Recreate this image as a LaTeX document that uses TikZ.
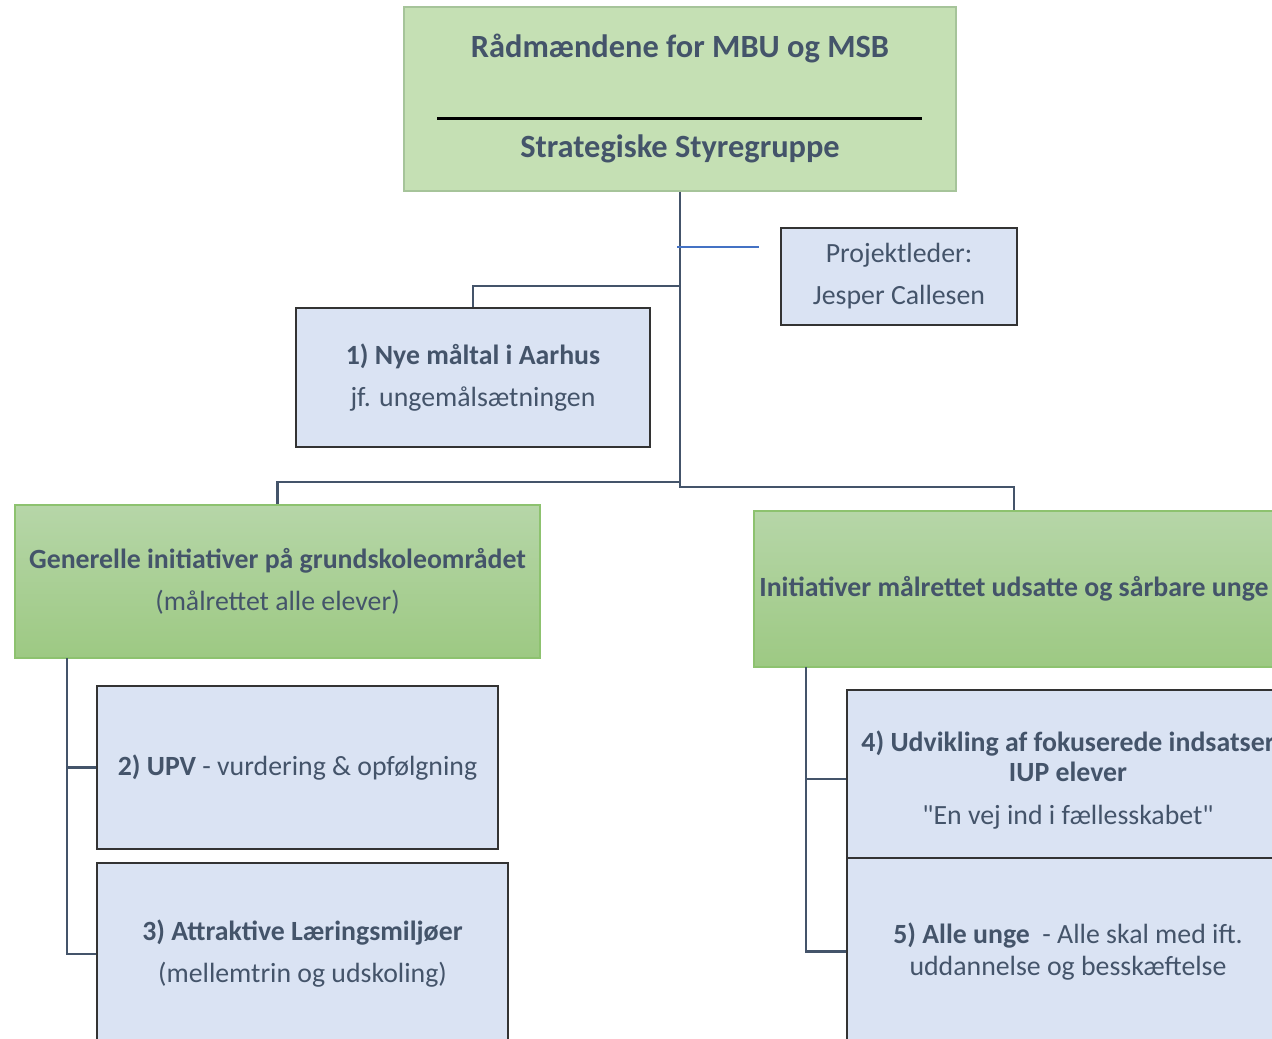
\documentclass[tikz,border=0pt]{standalone}
\usepackage{fontspec}
\setmainfont{Carlito}
\definecolor{txt}{HTML}{44546A}
\definecolor{bluefill}{HTML}{DAE3F3}
\definecolor{greenfill}{HTML}{C5E0B4}
\definecolor{greentop}{HTML}{B6D6A8}
\definecolor{greenbot}{HTML}{9DC983}
\definecolor{greenline}{HTML}{8DC26F}
\definecolor{topline}{HTML}{A6C49A}
\definecolor{pmline}{HTML}{4472C4}

\begin{document}
\begin{tikzpicture}[x=1pt,y=-1pt,
    every node/.style={text=txt,font=\fontsize{27.8}{32}\selectfont,align=center,inner sep=0pt},
    top node/.style={rectangle,draw=topline,fill=greenfill,line width=1.2pt,
      minimum width=552pt,minimum height=184pt},
    group node/.style={rectangle,draw=greenline,line width=1.2pt,
      top color=greentop,bottom color=greenbot},
    blue node/.style={rectangle,draw=black!80,fill=bluefill,line width=1.3pt},
    big/.style={font=\fontsize{32.4}{36}\selectfont\bfseries},
    conn/.style={draw=txt,line width=2.2pt}]

  \useasboundingbox (0,0) rectangle (1272,1039);
  \clip (0,0) rectangle (1272,1039);

  % top box
  \node[top node] (top) at (680,99) {};
  \node[big] (title) at (680,48.5) {Rådmændene for MBU og MSB};
  \node[big] (styre) at (680,148.5) {Strategiske Styregruppe};
  \draw[line width=3pt] (437,118) -- (922,118);

  \node[blue node,minimum width=236pt,minimum height=97pt] (pl) at (899,276.5)
    {Projektleder:\\[10pt]Jesper Callesen};
  \node[blue node,minimum width=354pt,minimum height=139pt] (nr1) at (473,377.5)
    {\textbf{1) Nye måltal i Aarhus}\\[10pt]jf. ungemålsætningen};

  % the two groups
  \node[group node,minimum width=525pt,minimum height=153pt] (gen) at (277.5,581.5)
    {\textbf{Generelle initiativer på grundskoleområdet}\\[10pt](målrettet alle elever)};
  \node[group node,minimum width=520pt,minimum height=156pt] (uds) at (1014,589)
    {\textbf{Initiativer målrettet udsatte og sårbare unge}};

  \node[blue node,minimum width=401pt,minimum height=163pt] (nr2) at (297.5,767.5)
    {\textbf{2) UPV} - vurdering \& opfølgning};
  \node[blue node,minimum width=411pt,minimum height=182pt] (nr3) at (302.5,954)
    {\textbf{3) Attraktive Læringsmiljøer}\\[10pt](mellemtrin og udskoling)};
  \node[blue node,minimum width=442pt,minimum height=168pt] (nr4) at (1068,774) {};
  \node (nr4text) at (1068,780)
    {\textbf{4) Udvikling af fokuserede indsatser}\\[-2pt]\textbf{IUP elever}\\[11pt]\textquotedbl En vej ind i fællesskabet\textquotedbl};
  \node[blue node,minimum width=442pt,minimum height=187pt] (nr5) at (1068,951.5)
    {\textbf{5) Alle unge}\ \ - Alle skal med ift.\\uddannelse og besskæftelse};

  % connectors
  \coordinate (split) at (680,487);
  \coordinate (j1) at (680,286);
  \coordinate (j2) at (680,482);
  \coordinate (lbar) at (67,658);
  \coordinate (rbar) at (806,667);
  \coordinate (plj) at (677,247);

  \draw[conn] (top.south) -- (split) -| (uds.north);
  \draw[conn] (j1) -| (nr1.north);
  \draw[conn] (j2) -| (gen.north);
  \draw[conn] (lbar) |- (nr3.west);
  \draw[conn] (lbar |- nr2.west) -- (nr2.west);
  \draw[conn] (rbar) |- (nr5.west);
  \draw[conn] ([yshift=-5pt]nr4.west -| rbar) -- ([yshift=-5pt]nr4.west);
  \draw[pmline,line width=1.3pt] (plj) -- ++(82,0);

\end{tikzpicture}
\end{document}
